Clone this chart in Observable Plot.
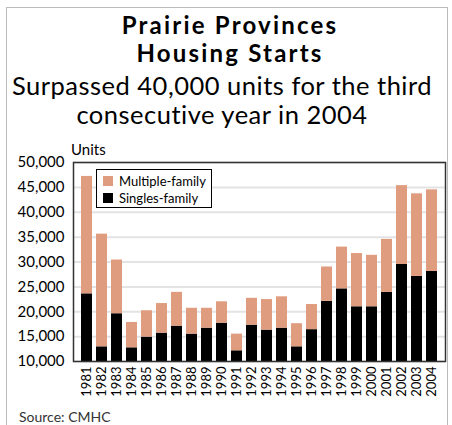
<!DOCTYPE html>
<html><head><meta charset="utf-8">
<script src="https://cdn.jsdelivr.net/npm/d3@7"></script>
<script src="https://cdn.jsdelivr.net/npm/@observablehq/plot@0.6"></script>
<style>
body{margin:0;background:#fff;font-family:Lato,"Open Sans",sans-serif;}
#wrap{position:relative;width:452px;height:425px;overflow:hidden;}
#border{position:absolute;left:6px;top:7px;width:440px;height:440px;border:1px solid #bbb;}
.t{position:absolute;left:0;width:452px;text-align:center;color:#000;white-space:nowrap;}
#t1,#t2{font-weight:bold;font-size:24px;letter-spacing:2.2px;left:4px;}
#t1{top:10px}#t2{top:38px}
#s1,#s2{font-size:25.5px;letter-spacing:0.5px;left:-4px;}
#s1{top:70px}#s2{top:99px}
#chart{position:absolute;left:0;top:140px;}
#units{position:absolute;left:71px;top:140px;font-size:15px;}
#legend{position:absolute;left:96px;top:169px;width:114px;height:37px;border:1.5px solid #000;background:#fff;font-size:13px;}
.li{position:absolute;left:6px;display:flex;align-items:center;}
.sw{width:10px;height:10px;margin-right:6px;}
#src{position:absolute;left:19px;top:408px;font-size:14px;color:#333;}
</style></head>
<body><div id="wrap">
<div id="border"></div>
<div class="t" id="t1">Prairie Provinces</div>
<div class="t" id="t2">Housing Starts</div>
<div class="t" id="s1">Surpassed 40,000 units for the third</div>
<div class="t" id="s2">consecutive year in 2004</div>
<div id="chart"></div>
<div id="units">Units</div>
<div id="legend">
 <div class="li" style="top:3px"><div class="sw" style="background:#E09C7E"></div>Multiple-family</div>
 <div class="li" style="top:20px"><div class="sw" style="background:#000"></div>Singles-family</div>
</div>
<div id="src">Source: CMHC</div>
</div>
<script>
const years = ["1981","1982","1983","1984","1985","1986","1987","1988","1989","1990","1991","1992","1993","1994","1995","1996","1997","1998","1999","2000","2001","2002","2003","2004"];
const singles = [23600,12950,19600,12750,14900,15700,17100,15500,16700,17700,12150,17300,16300,16700,12950,16400,22100,24600,21000,21000,23900,29500,27100,28100];
const totals = [47200,35600,30400,17850,20200,21650,23900,20700,20700,22000,15500,22700,22450,23000,17600,21450,29000,33000,31700,31350,34550,45350,43700,44500];
const yTicks = [10000,15000,20000,25000,30000,35000,40000,45000,50000];

const data = years.map((y,i)=>({year:y, singles:singles[i], total:totals[i]}));
const fmt = d3.format(",");
const chart = Plot.plot({
  width:452, height:270,
  marginTop:22, marginBottom:49, marginLeft:73, marginRight:7,
  style:{fontFamily:"Lato, 'Open Sans', sans-serif", color:"#000", background:"transparent"},
  x:{domain:years, paddingInner:0.28, paddingOuter:0.15},
  y:{domain:[10000,50000]},
  marks:[
    Plot.gridY(yTicks,{stroke:"#e3e3e3", strokeOpacity:1, strokeWidth:2}),
    Plot.barY(data,{x:"year", y:"singles", fill:"#000", clip:true}),
    Plot.barY(data,{x:"year", y1:"singles", y2:"total", fill:"#E09C7E"}),
    Plot.frame({stroke:"#333", strokeWidth:1.5}),
    Plot.axisY(yTicks,{tickSize:0, tickPadding:9, fontSize:15, tickFormat:fmt, label:null}),
    Plot.axisX({tickSize:0, tickRotate:-90, tickPadding:5, fontSize:13, label:null})
  ]
});
document.getElementById("chart").appendChild(chart);
</script>
</body></html>
